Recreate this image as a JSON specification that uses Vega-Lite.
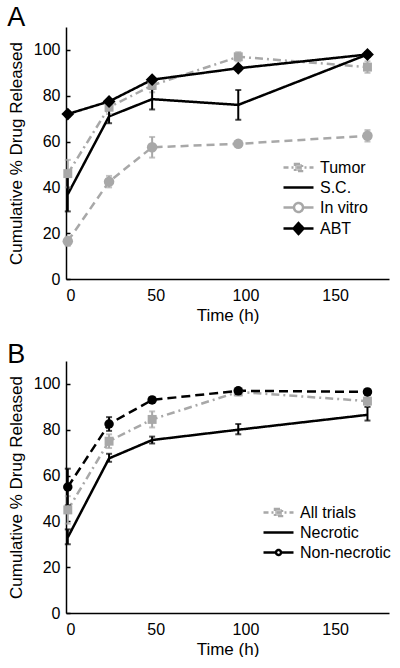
{
  "$schema": "https://vega.github.io/schema/vega-lite/v6.json",
  "background": "white",
  "padding": {"left": 7, "top": 4, "right": 5, "bottom": 0},
  "spacing": 18,
  "resolve": {"scale": {"color": "independent"}, "legend": {"color": "independent"}},
  "config": {
    "view": {"stroke": null},
    "font": "Liberation Sans",
    "axis": {"grid": false, "domainColor": "black", "domainWidth": 1.5, "labelFont": "Liberation Sans", "labelFontSize": 16, "labelColor": "black", "titleFont": "Liberation Sans", "titleFontSize": 17, "titleFontWeight": "normal", "titleColor": "black"},
    "axisX": {"ticks": false, "labelPadding": 8, "titlePadding": 4},
    "axisY": {"tickSize": -4, "tickColor": "black", "tickWidth": 1.5, "labelPadding": 10, "titlePadding": 8},
    "title": {"font": "Liberation Sans", "fontSize": 27, "fontWeight": "normal", "anchor": "start", "frame": "bounds", "color": "black", "offset": -8},
    "legend": {"labelFont": "Liberation Sans", "labelFontSize": 16, "labelColor": "black", "padding": 0, "rowPadding": 0, "labelOffset": 10}
  },
  "datasets": {
    "a": [
      {"series": "Tumor", "time": 1, "mean": 46, "lo": 40, "hi": 52},
      {"series": "Tumor", "time": 24, "mean": 75, "lo": 72, "hi": 78},
      {"series": "Tumor", "time": 48, "mean": 84.5, "lo": 81.5, "hi": 87.5},
      {"series": "Tumor", "time": 96, "mean": 97, "lo": 95, "hi": 99},
      {"series": "Tumor", "time": 168, "mean": 92.5, "lo": 90, "hi": 95},
      {"series": "S.C.", "time": 1, "mean": 37, "lo": 29.5, "hi": 45},
      {"series": "S.C.", "time": 24, "mean": 71, "lo": 68, "hi": 74},
      {"series": "S.C.", "time": 48, "mean": 78.5, "lo": 74, "hi": 83},
      {"series": "S.C.", "time": 96, "mean": 76, "lo": 69.5, "hi": 82.5},
      {"series": "S.C.", "time": 168, "mean": 98, "lo": 97, "hi": 99},
      {"series": "In vitro", "time": 1, "mean": 16.5, "lo": 14.5, "hi": 18.5},
      {"series": "In vitro", "time": 24, "mean": 42.5, "lo": 40, "hi": 45},
      {"series": "In vitro", "time": 48, "mean": 57.5, "lo": 53, "hi": 62},
      {"series": "In vitro", "time": 96, "mean": 59, "lo": 58, "hi": 60},
      {"series": "In vitro", "time": 168, "mean": 62.5, "lo": 60, "hi": 65},
      {"series": "ABT", "time": 1, "mean": 72, "lo": 71, "hi": 73},
      {"series": "ABT", "time": 24, "mean": 77.5, "lo": 76.5, "hi": 78.5},
      {"series": "ABT", "time": 48, "mean": 87, "lo": 86, "hi": 88},
      {"series": "ABT", "time": 96, "mean": 92, "lo": 91, "hi": 93},
      {"series": "ABT", "time": 168, "mean": 98, "lo": 97, "hi": 99}
    ],
    "b": [
      {"series": "All trials", "time": 1, "mean": 45, "lo": 39, "hi": 51},
      {"series": "All trials", "time": 24, "mean": 75, "lo": 72, "hi": 78},
      {"series": "All trials", "time": 48, "mean": 84.5, "lo": 81, "hi": 88},
      {"series": "All trials", "time": 96, "mean": 96.5, "lo": 95, "hi": 98},
      {"series": "All trials", "time": 168, "mean": 92.5, "lo": 90, "hi": 95},
      {"series": "Necrotic", "time": 1, "mean": 33, "lo": 30, "hi": 36.5},
      {"series": "Necrotic", "time": 24, "mean": 67.5, "lo": 66, "hi": 69.5},
      {"series": "Necrotic", "time": 48, "mean": 75.5, "lo": 74, "hi": 77},
      {"series": "Necrotic", "time": 96, "mean": 80, "lo": 78, "hi": 82.5},
      {"series": "Necrotic", "time": 168, "mean": 86.5, "lo": 84, "hi": 90},
      {"series": "Non-necrotic", "time": 1, "mean": 55, "lo": 47, "hi": 63},
      {"series": "Non-necrotic", "time": 24, "mean": 82.5, "lo": 79.5, "hi": 85.5},
      {"series": "Non-necrotic", "time": 48, "mean": 93, "lo": 92, "hi": 94},
      {"series": "Non-necrotic", "time": 96, "mean": 97, "lo": 96, "hi": 98},
      {"series": "Non-necrotic", "time": 168, "mean": 96.5, "lo": 95.5, "hi": 97.5}
    ]
  },
  "vconcat": [
    {
      "title": {"text": "A", "offset": -5},
      "width": 323,
      "height": 252,
      "data": {"name": "a"},
      "encoding": {
        "x": {"field": "time", "type": "quantitative", "title": "Time (h)", "scale": {"domain": [0, 180], "nice": false}, "axis": {"values": [0, 50, 100, 150]}}
      },
      "layer": [
        {
          "mark": {"type": "line", "strokeWidth": 2.5},
          "encoding": {
            "y": {"field": "mean", "type": "quantitative", "title": "Cumulative % Drug Released", "scale": {"domain": [0, 110], "nice": false}, "axis": {"values": [0, 20, 40, 60, 80, 100]}},
            "strokeDash": {"condition": [{"test": "datum.series === 'Tumor'", "value": [8, 4, 2, 4]}, {"test": "datum.series === 'In vitro'", "value": [8, 5]}], "value": [1, 0]},
            "detail": {"field": "series", "type": "nominal"},
            "color": {"field": "series", "type": "nominal", "scale": {"domain": ["Tumor", "S.C.", "In vitro", "ABT"], "range": ["#a8a8a8", "#000000", "#a8a8a8", "#000000"]}, "legend": {
              "title": null, "orient": "none", "legendX": 221, "legendY": 129, "symbolSize": 400,
              "encode": {"symbols": {"update": {
                "shape": {"signal": "datum.value === 'Tumor' ? 'M-1.5,0H1.5M-0.35,-0.35H0.35V0.35H-0.35Z' : datum.value === 'In vitro' ? 'M-1.5,0H-0.45M0.45,0H1.5M0.45,0A0.45,0.45,0,1,1,-0.45,0A0.45,0.45,0,1,1,0.45,0Z' : datum.value === 'ABT' ? 'M-1.5,0H1.5M0,-0.55L0.5,0L0,0.55L-0.5,0Z' : 'M-1.5,0H1.5'"},
                "fill": {"signal": "datum.value === 'Tumor' ? '#c8c8c8' : datum.value === 'ABT' ? '#000000' : '#ffffff'"},
                "stroke": {"signal": "datum.value === 'Tumor' || datum.value === 'In vitro' ? '#a8a8a8' : '#000000'"},
                "strokeDash": {"signal": "datum.value === 'Tumor' ? [5, 3, 2, 3] : [1, 0]"},
                "strokeWidth": {"value": 2.5},
                "opacity": {"value": 1}
              }}}
            }}
          }
        },
        {
          "mark": {"type": "errorbar", "ticks": {"size": 6}, "rule": {"strokeWidth": 2}, "thickness": 2},
          "encoding": {
            "y": {"field": "lo", "type": "quantitative", "title": "Cumulative % Drug Released"},
            "y2": {"field": "hi"},
            "detail": {"field": "series", "type": "nominal"},
            "color": {"condition": [{"test": "datum.series === 'Tumor'", "value": "#a8a8a8"}, {"test": "datum.series === 'In vitro'", "value": "#a8a8a8"}], "value": "#000000"}
          }
        },
        {
          "transform": [{"filter": "datum.series !== 'S.C.'"}],
          "mark": {"type": "point", "filled": true, "opacity": 1},
          "encoding": {
            "y": {"field": "mean", "type": "quantitative", "title": "Cumulative % Drug Released"},
            "shape": {"condition": [{"test": "datum.series === 'Tumor'", "value": "square"}, {"test": "datum.series === 'ABT'", "value": "diamond"}], "value": "circle"},
            "size": {"condition": [{"test": "datum.series === 'Tumor'", "value": 80}, {"test": "datum.series === 'ABT'", "value": 165}], "value": 110},
            "color": {"condition": [{"test": "datum.series === 'Tumor'", "value": "#a8a8a8"}, {"test": "datum.series === 'In vitro'", "value": "#a8a8a8"}], "value": "#000000"}
          }
        }
      ]
    },
    {
      "title": {"text": "B", "offset": -8},
      "width": 323,
      "height": 252,
      "data": {"name": "b"},
      "encoding": {
        "x": {"field": "time", "type": "quantitative", "title": "Time (h)", "scale": {"domain": [0, 180], "nice": false}, "axis": {"values": [0, 50, 100, 150]}}
      },
      "layer": [
        {
          "mark": {"type": "line", "strokeWidth": 2.5},
          "encoding": {
            "y": {"field": "mean", "type": "quantitative", "title": "Cumulative % Drug Released", "scale": {"domain": [0, 110], "nice": false}, "axis": {"values": [0, 20, 40, 60, 80, 100]}},
            "strokeDash": {"condition": [{"test": "datum.series === 'All trials'", "value": [8, 4, 2, 4]}, {"test": "datum.series === 'Non-necrotic'", "value": [9, 5]}], "value": [1, 0]},
            "detail": {"field": "series", "type": "nominal"},
            "color": {"field": "series", "type": "nominal", "scale": {"domain": ["All trials", "Necrotic", "Non-necrotic"], "range": ["#a8a8a8", "#000000", "#000000"]}, "legend": {
              "title": null, "orient": "none", "legendX": 201, "legendY": 140, "symbolSize": 400, "rowPadding": -2.5,
              "encode": {"symbols": {"update": {
                "shape": {"signal": "datum.value === 'All trials' ? 'M-1.5,0H1.5M-0.35,-0.35H0.35V0.35H-0.35Z' : datum.value === 'Non-necrotic' ? 'M-1.5,0H-0.25M0.25,0H1.5M0.25,0A0.25,0.25,0,1,1,-0.25,0A0.25,0.25,0,1,1,0.25,0Z' : 'M-1.5,0H1.5'"},
                "fill": {"signal": "datum.value === 'All trials' ? '#c8c8c8' : '#ffffff'"},
                "stroke": {"signal": "datum.value === 'All trials' ? '#a8a8a8' : '#000000'"},
                "strokeDash": {"signal": "datum.value === 'All trials' ? [5, 3, 2, 3] : [1, 0]"},
                "strokeWidth": {"value": 2.5},
                "opacity": {"value": 1}
              }}}
            }}
          }
        },
        {
          "mark": {"type": "errorbar", "ticks": {"size": 6}, "rule": {"strokeWidth": 2}, "thickness": 2},
          "encoding": {
            "y": {"field": "lo", "type": "quantitative", "title": "Cumulative % Drug Released"},
            "y2": {"field": "hi"},
            "detail": {"field": "series", "type": "nominal"},
            "color": {"condition": {"test": "datum.series === 'All trials'", "value": "#a8a8a8"}, "value": "#000000"}
          }
        },
        {
          "transform": [{"filter": "datum.series !== 'Necrotic'"}],
          "mark": {"type": "point", "filled": true, "opacity": 1},
          "encoding": {
            "y": {"field": "mean", "type": "quantitative", "title": "Cumulative % Drug Released"},
            "shape": {"condition": {"test": "datum.series === 'All trials'", "value": "square"}, "value": "circle"},
            "size": {"condition": {"test": "datum.series === 'All trials'", "value": 80}, "value": 90},
            "color": {"condition": {"test": "datum.series === 'All trials'", "value": "#a8a8a8"}, "value": "#000000"}
          }
        }
      ]
    }
  ]
}
